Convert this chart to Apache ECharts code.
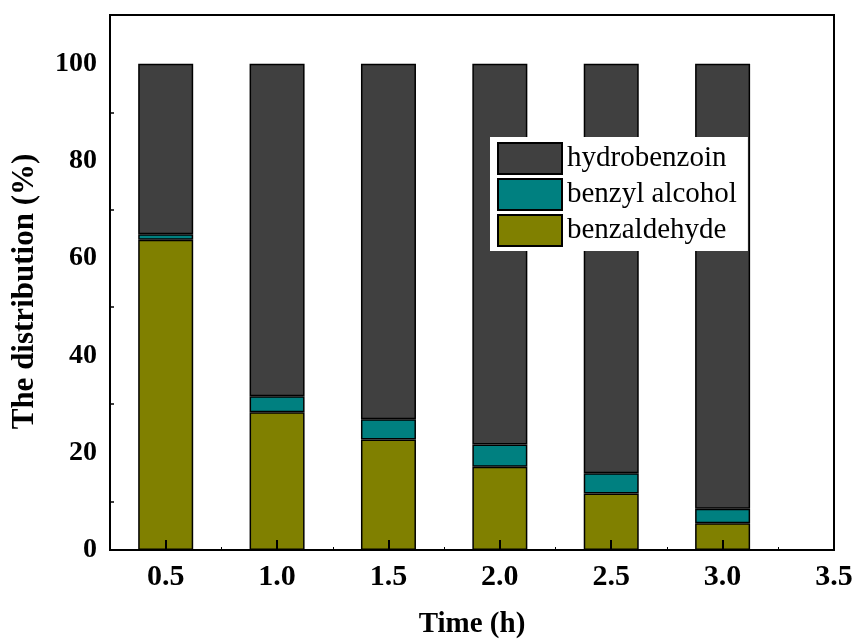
<!DOCTYPE html>
<html>
<head>
<meta charset="utf-8">
<script src="https://cdn.jsdelivr.net/npm/echarts@6/dist/echarts.min.js"></script>
<style>html,body{margin:0;padding:0;background:#fff}#c{width:855px;height:639px}</style>
</head>
<body>
<div id="c"></div>
<script>
// x positions (h) on a 0.25-step category axis spanning 0.25 .. 3.5
var xCategories = ['0.25', '0.5', '0.75', '1.0', '1.25', '1.5', '1.75', '2.0', '2.25', '2.5', '2.75', '3.0', '3.25', '3.5'];
var times = ['0.5', '1.0', '1.5', '2.0', '2.5', '3.0'];
var benzaldehyde = [63.8, 28.3, 22.7, 17.1, 11.6, 5.5];
var benzylAlcohol = [1.1, 3.3, 4.2, 4.6, 4.2, 3.0];
var hydrobenzoin = [35.1, 68.4, 73.1, 78.3, 84.2, 91.5];
var xTickLabels = ['0.5', '1.0', '1.5', '2.0', '2.5', '3.0', '3.5'];

function pairs(v) { return times.map(function (t, i) { return [t, v[i]]; }); }
function isMajor(idx, name) { return xTickLabels.indexOf(name) >= 0; }
function isMinor(idx, name) { return idx > 0 && xTickLabels.indexOf(name) < 0; }

var font = 'Liberation Serif';
var chart = echarts.init(document.getElementById('c'));
var border = { borderColor: '#000', borderWidth: 1.5 };
chart.setOption({
  animation: false,
  grid: { left: 110, right: 21, top: 15, bottom: 89, outerBoundsMode: 'none', containLabel: false,
    show: true, borderColor: '#000', borderWidth: 2, backgroundColor: 'transparent' },
  legend: {
    orient: 'vertical', left: 490, top: 137, icon: 'rect', itemWidth: 64, itemHeight: 31, itemGap: 3,
    backgroundColor: '#fff', padding: [5, 11, 4, 7],
    data: ['hydrobenzoin', 'benzyl alcohol', 'benzaldehyde'],
    textStyle: { fontFamily: font, fontSize: 29, lineHeight: 31, color: '#000' }
  },
  xAxis: [{
    type: 'category', data: xCategories, boundaryGap: false, z: 5,
    name: 'Time (h)', nameLocation: 'middle', nameGap: 60,
    nameTextStyle: { fontFamily: font, fontSize: 29, fontWeight: 'bold', color: '#000' },
    axisLine: { lineStyle: { color: '#000', width: 2 } },
    axisTick: { inside: true, length: 10, interval: isMajor, lineStyle: { color: '#000', width: 2 } },
    axisLabel: { interval: isMajor, fontFamily: font, fontSize: 30, fontWeight: 'bold', color: '#000', margin: 12 },
    splitLine: { show: false }
  }, {
    type: 'category', data: xCategories, boundaryGap: false, position: 'bottom', z: 5,
    axisLine: { show: false },
    axisTick: { inside: true, length: 3, interval: isMinor, lineStyle: { color: '#000', width: 1 } },
    axisLabel: { show: false }, splitLine: { show: false }
  }],
  yAxis: {
    type: 'value', min: 0, max: 110, interval: 20, z: 5,
    name: 'The distribution (%)', nameLocation: 'middle', nameGap: 70,
    nameTextStyle: { fontFamily: font, fontSize: 31, fontWeight: 'bold', color: '#000', padding: [0, 18, 0, 0] },
    axisLine: { show: true, lineStyle: { color: '#000', width: 2 } },
    axisTick: { inside: true, length: 10, lineStyle: { color: '#000', width: 2 } },
    minorTick: { show: true, splitNumber: 2, length: 4, lineStyle: { color: '#000', width: 1.5 } },
    axisLabel: { fontFamily: font, fontSize: 28, fontWeight: 'bold', color: '#000', margin: 13, showMaxLabel: false,
      formatter: function (v) { return v > 100 ? '' : String(v); } },
    splitLine: { show: false }
  },
  series: [
    { type: 'bar', stack: 'total', barWidth: 55, name: 'benzaldehyde', data: pairs(benzaldehyde),
      itemStyle: Object.assign({ color: '#808000' }, border) },
    { type: 'bar', stack: 'total', barWidth: 55, name: 'benzyl alcohol', data: pairs(benzylAlcohol),
      itemStyle: Object.assign({ color: '#008080' }, border) },
    { type: 'bar', stack: 'total', barWidth: 55, name: 'hydrobenzoin', data: pairs(hydrobenzoin),
      itemStyle: Object.assign({ color: '#404040' }, border) }
  ]
});
</script>
</body>
</html>
